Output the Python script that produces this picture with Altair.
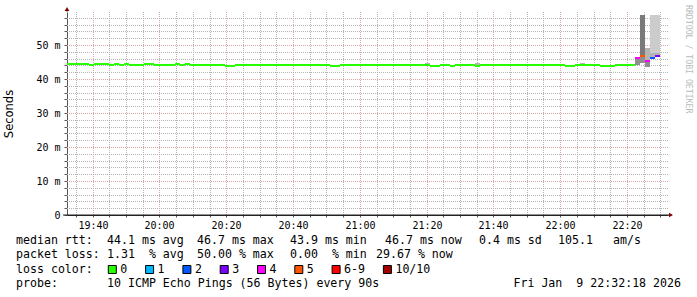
import altair as alt
import pandas as pd

# ---------------- data ----------------
DAY = "2026-01-09T"
t_first = "19:32:18"
t_last = "22:32:18"

# median rtt, as step segments (start, end) in ms, with loss category
seg_start = ["19:32:18", "19:39:00", "19:40:30", "19:45:00", "19:46:30", "19:48:00", "19:49:30",
             "19:51:00", "19:55:30", "19:58:30", "20:04:30", "20:06:00", "20:07:30", "20:09:00",
             "20:19:30", "20:22:30", "20:51:00", "20:54:00", "21:21:00", "21:24:00", "21:27:00",
             "21:28:30", "21:34:30", "21:36:00", "22:01:30", "22:04:30", "22:12:00", "22:16:30",
             "22:22:30", "22:24:00", "22:25:30", "22:27:00", "22:28:30"]
seg_end = seg_start[1:] + ["22:30:00"]
seg_median = [44.4, 44.1, 44.4, 44.1, 44.4, 44.1, 44.4, 44.1, 44.4, 44.1, 44.4, 44.1, 44.4, 44.1,
              43.8, 44.1, 43.8, 44.1, 43.8, 44.1, 43.8, 44.1, 43.8, 44.1, 43.8, 44.1, 43.8, 44.1,
              46.1, 46.8, 45.3, 46.1, 46.7]
seg_loss = ["0"] * 28 + ["4", "5", "4", "2", "3"]

# smoke (ping spread) bands
smoke_start = ["21:19:30", "21:34:30", "22:06:00", "22:22:30", "22:24:00", "22:24:00",
               "22:25:30", "22:25:30", "22:27:00", "22:27:00", "22:28:30", "22:28:30"]
smoke_end = ["21:21:00", "21:36:00", "22:07:30", "22:24:00", "22:25:30", "22:25:30",
             "22:27:00", "22:27:00", "22:28:30", "22:28:30", "22:30:00", "22:30:00"]
smoke_low = [44.1, 43.8, 44.1, 44.0, 46.8, 44.6, 45.3, 43.6, 47.6, 46.1, 47.6, 46.7]
smoke_high = [44.7, 44.6, 44.7, 46.1, 58.8, 46.8, 49.1, 45.3, 58.8, 47.6, 58.8, 47.6]
smoke_level = [2, 2, 2, 3, 4, 3, 2, 3, 1, 2, 1, 2]

loss_labels = ["0", "1", "2", "3", "4", "5", "6-9", "10/10"]
loss_colors = ["#26ff00", "#00b8ff", "#0059ff", "#7e00ff", "#ff00ff", "#ff5500", "#ff0000", "#a10000"]
smoke_levels = [1, 2, 3, 4]
smoke_colors = ["#cccccc", "#b4b4b4", "#8e8e8e", "#7a7a7a"]

legend_line1 = ["median rtt:", "44.1 ms avg", "46.7 ms max", "43.9 ms min", "46.7 ms now",
                "0.4 ms sd", "105.1", "am/s"]
legend_line2 = ["packet loss:", "1.31  % avg", "50.00 % max", "0.00  % min", "29.67 % now"]
legend_line4 = ["probe:", "10 ICMP Echo Pings (56 Bytes) every 90s", "Fri Jan  9 22:32:18 2026"]

# ---------------- layout ----------------
W, H = 601, 203
PADL, PADT = 67, 12
MONO = "DejaVu Sans Mono"
GRID = "#b4b4b4"
MGRID = "#e0a4a4"
Y_MAX = 59.7

median_df = pd.DataFrame({
    "start": [DAY + s for s in seg_start],
    "end": [DAY + s for s in seg_end],
    "median": seg_median,
    "loss": seg_loss,
})
smoke_df = pd.DataFrame({
    "start": [DAY + s for s in smoke_start],
    "end": [DAY + s for s in smoke_end],
    "low": smoke_low,
    "high": smoke_high,
    "level": smoke_level,
})

# grid / tick positions (every 5 minutes, every 2 ms)
tick_times = [f"{DAY}{h:02d}:{m:02d}:00" for h in range(19, 23) for m in range(0, 60, 5)
              if t_first < f"{h:02d}:{m:02d}:00" < t_last]
xgrid_df = pd.DataFrame({"t": tick_times,
                         "major": [int(s[-5:-3]) % 20 == 0 for s in tick_times]})
ygrid_vals = list(range(2, 60, 2))
ygrid_df = pd.DataFrame({"v": ygrid_vals, "major": [v % 10 == 0 for v in ygrid_vals]})

x_scale = alt.Scale(domain=[DAY + t_first, DAY + t_last], type="time", nice=False, round=True)
y_scale = alt.Scale(domain=[0, Y_MAX], nice=False, zero=True, round=True)

x_axis = alt.Axis(
    title=None,
    values=tick_times,
    labelExpr="minutes(datum.value) % 20 == 0 ? timeFormat(datum.value, '%H:%M') : ''",
    labelFont=MONO, labelFontSize=10, labelColor="#000000", labelPadding=3,
    labelOverlap=False, labelFlush=False,
    grid=False,
    domainColor="#222222", domainWidth=1,
    ticks=True, tickSize=2, tickColor="#555555",
)
y_axis = alt.Axis(
    title=None,
    values=list(range(0, 60, 2)),
    labelExpr="datum.value % 10 == 0 ? (datum.value == 0 ? '0' : datum.value + ' m') : ''",
    labelFont=MONO, labelFontSize=10, labelColor="#000000", labelPadding=4,
    labelOverlap=False, labelFlush=False,
    grid=False,
    domainColor="#555555", domainWidth=1,
    ticks=True, tickSize=3, tickColor="#555555",
)

xgrid = alt.Chart(xgrid_df).mark_rule(strokeDash=[1, 1], strokeWidth=1, xOffset=0.5).encode(
    x=alt.X("t:T", scale=x_scale, axis=x_axis),
    color=alt.condition("datum.major", alt.value(MGRID), alt.value(GRID)),
)
ygrid = alt.Chart(ygrid_df).mark_rule(strokeDash=[1, 1], strokeWidth=1, yOffset=0.5).encode(
    y=alt.Y("v:Q", scale=y_scale, axis=y_axis),
    color=alt.condition("datum.major", alt.value(MGRID), alt.value(GRID)),
)

smoke = alt.Chart(smoke_df).mark_rect().encode(
    x=alt.X("start:T", scale=x_scale, axis=x_axis),
    x2="end:T",
    y=alt.Y("low:Q", scale=y_scale, axis=y_axis),
    y2="high:Q",
    fill=alt.Fill("level:O", scale=alt.Scale(domain=smoke_levels, range=smoke_colors), legend=None),
)

median = alt.Chart(median_df).mark_rule(strokeWidth=2, strokeCap="butt").encode(
    x=alt.X("start:T", scale=x_scale, axis=x_axis),
    x2="end:T",
    y=alt.Y("median:Q", scale=y_scale, axis=y_axis),
    color=alt.Color("loss:N", scale=alt.Scale(domain=loss_labels, range=loss_colors), legend=None),
)

one = pd.DataFrame({"t": [""]})
layers = [xgrid, ygrid, smoke, median]

# axis extensions and arrows
layers.append(alt.Chart(one).mark_rule(color="#555555").encode(
    x=alt.value(0), y=alt.value(-3), y2=alt.value(0)))
layers.append(alt.Chart(one).mark_rule(color="#222222").encode(
    x=alt.value(-4), x2=alt.value(W + 3), y=alt.value(H)))
layers.append(alt.Chart(one).mark_point(shape="triangle-up", filled=True, size=22, color="#7f0000", opacity=1).encode(
    x=alt.value(0), y=alt.value(-3)))
layers.append(alt.Chart(one).mark_point(shape="triangle-right", filled=True, size=22, color="#7f0000", opacity=1).encode(
    x=alt.value(W + 3), y=alt.value(H)))

NB = "\u00a0"


def text(txt, X, Y, **kw):
    props = dict(align="left", baseline="middle", font=MONO, fontSize=11.6, color="#000000")
    props.update(kw)
    return alt.Chart(pd.DataFrame({"t": [txt.replace(" ", NB)]})).mark_text(**props).encode(
        x=alt.value(X - PADL), y=alt.value(Y - PADT), text="t:N")


# y title and credit
layers.append(text("Seconds", 10, 114, angle=270, align="center", font="DejaVu Sans", fontSize=11.5))
layers.append(text("RRDTOOL / TOBI OETIKER", 688, 5, angle=90, fontSize=8.2, color="#bbbbbb"))

CH = 7.0
line_y = [241, 255.3, 269.5, 283.6]

x1 = [16, 107, 197, 290, 385, 479, 558, 613]
for s, xx in zip(legend_line1, x1):
    layers.append(text(s, xx, line_y[0]))
x2 = [16, 107, 197, 290, 376]
for s, xx in zip(legend_line2, x2):
    layers.append(text(s, xx, line_y[1]))
layers.append(text("loss color:", 16, line_y[2]))
bx = 108.3
for lab, col in zip(loss_labels, loss_colors):
    layers.append(alt.Chart(one).mark_rect(color=col, stroke="#000000", strokeWidth=1).encode(
        x=alt.value(bx - PADL), x2=alt.value(bx + 8 - PADL),
        y=alt.value(line_y[2] - 4 - PADT), y2=alt.value(line_y[2] + 4 - PADT)))
    layers.append(text(lab, bx + 12, line_y[2]))
    bx += 30.3 + CH * len(lab)
x4 = [16, 107, 681]
for s, xx, al in zip(legend_line4, x4, ["left", "left", "right"]):
    layers.append(text(s, xx, line_y[3], align=al))

chart = alt.layer(*layers).properties(
    width=W, height=H,
    autosize=alt.AutoSizeParams(type="none"),
    padding={"left": PADL, "top": PADT, "right": 697 - PADL - W, "bottom": 297 - PADT - H},
    background="white",
).configure_view(stroke=None)

chart.save("out.html", embed_options={"renderer": "svg", "actions": False})
